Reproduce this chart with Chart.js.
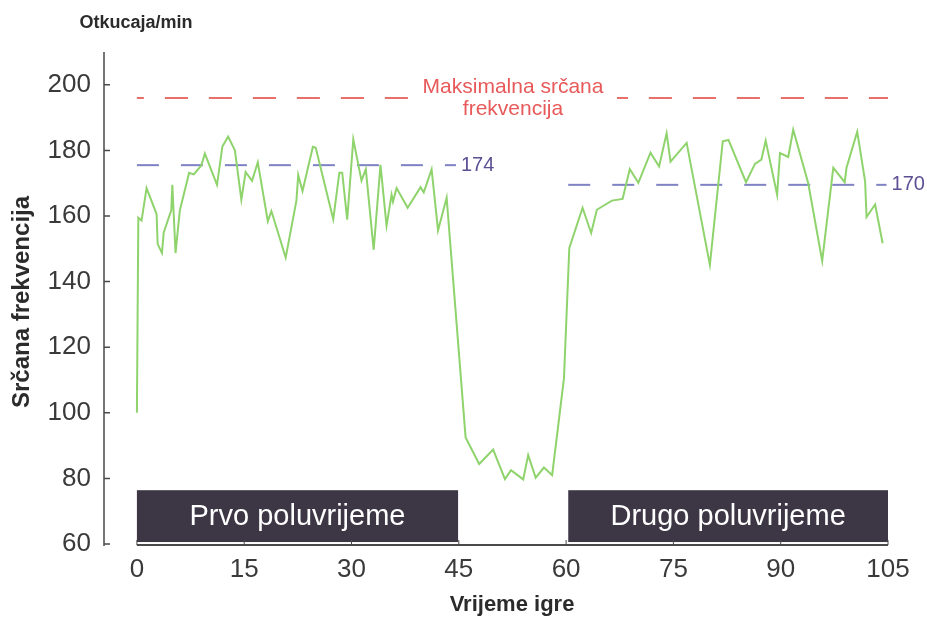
<!DOCTYPE html>
<html>
<head>
<meta charset="utf-8">
<script src="https://cdn.jsdelivr.net/npm/chart.js@4.4.1/dist/chart.umd.min.js"></script>
<style>
  html, body { margin: 0; padding: 0; background: #fff; }
  #wrap { width: 927px; height: 619px; }
</style>
</head>
<body>
<div id="wrap"><canvas id="hrChart" width="927" height="619"></canvas></div>
<script>
// --- data ---
const minutes = [0, 0.2, 0.65, 1.35, 2.75, 2.9, 3.5, 3.75, 4.8, 4.95, 5.4, 6.0, 7.3, 7.95, 9.0, 9.5,
  11.2, 11.95, 12.75, 13.7, 14.6, 15.2, 16.1, 16.9, 18.3, 18.8, 20.8, 22.3, 22.55, 23.15, 24.6, 25.0,
  27.45, 28.3, 28.7, 29.4, 30.25, 31.4, 32.0, 33.1, 34.05, 34.9, 35.6, 35.8, 36.3, 37.85, 39.65, 40.1,
  41.2, 42.1, 43.3, 45.95, 47.85, 49.8, 51.45, 52.3, 54.0, 54.7, 55.75, 56.9, 58.05, 59.7,
  60.45, 62.3, 63.5, 64.3, 66.4, 67.9, 68.9, 70.1, 71.8, 73.0, 74.05, 74.6, 76.85, 80.1, 81.9, 82.7,
  85.15, 86.4, 87.3, 87.9, 89.5, 89.9, 91.05, 91.75, 93.85, 95.8, 97.35, 98.95, 99.2, 100.7, 101.8,
  102.0, 103.2, 104.25];
const heartRate = [100, 159.5, 158.6, 168.5, 160.6, 151.5, 148.7, 155, 161.7, 169.5, 148.7, 161.7, 173.2, 172.7, 175.4, 179,
  169.5, 181.2, 184.2, 180, 165, 173.4, 170.7, 176.4, 158.4, 161.5, 147.3, 164.7, 172.5, 167.6, 181.1, 180.8,
  159, 173.2, 173.2, 158.9, 183.4, 170.8, 174.3, 149.7, 175.6, 157, 166.5, 164.4, 168.5, 162.5, 168.8, 167.2,
  174.2, 155.6, 165.6, 92.5, 84.4, 88.8, 79.8, 82.5, 79.7, 87.1, 80.2, 83.3, 81, 110.5,
  150.3, 162.5, 154.8, 161.9, 164.7, 165.2, 174.3, 170.1, 179.3, 175.1, 185.2, 176.6, 182.3, 145.1, 182.8, 183.2,
  170.3, 175.9, 177.2, 183, 166.5, 179.2, 178, 186.3, 170, 146.3, 174.7, 170.3, 174.7, 185.7, 170.6,
  159.7, 163.5, 151.7];

const xTicks = [0, 15, 30, 45, 60, 75, 90, 105];
const yTicks = [60, 80, 100, 120, 140, 160, 180, 200];

// halves of the match (dark boxes at the bottom)
const halfLabels = ['Prvo poluvrijeme', 'Drugo poluvrijeme'];
const halfStart = [0, 60.3];
const halfEnd = [44.9, 105];
const halfLow = 60.6;
const halfHigh = 76.4;

// maximal heart rate line
const maxHr = 196;
const maxHrLabel = ['Maksimalna srčana', 'frekvencija'];

// average lines per half
const avgLevel = [175.5, 169.5];
const avgLabel = ['174', '170'];
const avgFrom = [0, 60.3];
const avgTo = [44.6, 104.8];

const SANS = "'Liberation Sans', Arial, sans-serif";

// --- extra drawing: axes, boxes, reference lines, titles ---
const decorPlugin = {
  id: 'decor',
  beforeDatasetsDraw(chart) {
    const { ctx, scales: { x, y } } = chart;
    ctx.save();

    // half-time boxes
    halfLabels.forEach((txt, i) => {
      const x0 = x.getPixelForValue(halfStart[i]);
      const x1 = x.getPixelForValue(halfEnd[i]);
      const y0 = y.getPixelForValue(halfHigh);
      const y1 = y.getPixelForValue(halfLow);
      ctx.fillStyle = '#3c3645';
      ctx.fillRect(x0, y0, x1 - x0, y1 - y0);
      ctx.fillStyle = '#ffffff';
      ctx.font = '29px ' + SANS;
      ctx.textAlign = 'center';
      ctx.textBaseline = 'middle';
      ctx.fillText(txt, (x0 + x1) / 2, (y0 + y1) / 2 + 1);
    });

    // max heart rate dashed line
    const yMax = y.getPixelForValue(maxHr);
    ctx.strokeStyle = '#e8706a';
    ctx.lineWidth = 2;
    ctx.setLineDash([23, 21]);
    ctx.lineDashOffset = 16;
    ctx.beginPath();
    ctx.moveTo(x.getPixelForValue(0), yMax);
    ctx.lineTo(x.getPixelForValue(105), yMax);
    ctx.stroke();
    ctx.setLineDash([]);
    ctx.fillStyle = '#ffffff';
    ctx.fillRect(410, yMax - 22, 207, 44);
    ctx.fillStyle = '#e8595a';
    ctx.font = '21px ' + SANS;
    ctx.textAlign = 'center';
    ctx.textBaseline = 'middle';
    ctx.fillText(maxHrLabel[0], 513, yMax - 11);
    ctx.fillText(maxHrLabel[1], 513, yMax + 11);

    // average dashed lines with their labels
    avgLevel.forEach((lvl, i) => {
      const yy = y.getPixelForValue(lvl);
      const x0 = x.getPixelForValue(avgFrom[i]);
      const x1 = x.getPixelForValue(avgTo[i]);
      ctx.strokeStyle = '#7f82c4';
      ctx.lineWidth = 2;
      ctx.setLineDash([22, 22]);
      ctx.lineDashOffset = 0;
      ctx.beginPath();
      ctx.moveTo(x0, yy);
      ctx.lineTo(x1, yy);
      ctx.stroke();
      ctx.setLineDash([]);
      ctx.fillStyle = '#5d4f94';
      ctx.font = '20px ' + SANS;
      ctx.textAlign = 'left';
      ctx.textBaseline = 'middle';
      ctx.fillText(avgLabel[i], x1 + 5, yy);
    });
    ctx.restore();
  },
  afterDraw(chart) {
    const { ctx, chartArea, scales: { x, y } } = chart;
    ctx.save();
    ctx.strokeStyle = '#4a4a4a';

    // y axis line + inward ticks
    ctx.lineWidth = 1.5;
    ctx.beginPath();
    ctx.moveTo(chartArea.left, chartArea.top);
    ctx.lineTo(chartArea.left, chartArea.bottom + 2);
    yTicks.forEach(v => {
      const yy = y.getPixelForValue(v);
      ctx.moveTo(chartArea.left, yy);
      ctx.lineTo(chartArea.left + 6, yy);
    });
    ctx.stroke();

    // x axis line (starts at minute 0) + inward ticks
    const yb = y.getPixelForValue(60) + 1;
    ctx.lineWidth = 2;
    ctx.beginPath();
    ctx.moveTo(x.getPixelForValue(0), yb);
    ctx.lineTo(x.getPixelForValue(105), yb);
    ctx.stroke();
    ctx.lineWidth = 1;
    ctx.beginPath();
    xTicks.forEach(v => {
      const xx = x.getPixelForValue(v);
      ctx.moveTo(xx, yb);
      ctx.lineTo(xx, yb - 5);
    });
    ctx.stroke();

    // titles
    ctx.fillStyle = '#2b2b2b';
    ctx.textAlign = 'center';
    ctx.textBaseline = 'middle';
    ctx.font = 'bold 18px ' + SANS;
    ctx.fillText('Otkucaja/min', 136, 23);
    ctx.font = 'bold 22px ' + SANS;
    ctx.fillText('Vrijeme igre', 512, 605);
    ctx.font = 'bold 24px ' + SANS;
    ctx.translate(22, 302);
    ctx.rotate(-Math.PI / 2);
    ctx.fillText('Srčana frekvencija', 0, 0);
    ctx.restore();
  }
};

const ctx = document.getElementById('hrChart').getContext('2d');
new Chart(ctx, {
  type: 'line',
  data: {
    datasets: [{
      label: 'Srčana frekvencija',
      data: minutes.map((m, i) => ({ x: m, y: heartRate[i] })),
      borderColor: '#8fd36c',
      borderWidth: 2,
      pointRadius: 0,
      fill: false,
      tension: 0
    }]
  },
  options: {
    responsive: false,
    devicePixelRatio: 1,
    animation: false,
    layout: { padding: { left: 30, top: 52, right: 39, bottom: 0 } },
    plugins: {
      legend: { display: false },
      tooltip: { enabled: false }
    },
    scales: {
      x: {
        type: 'linear',
        min: -4.6,
        max: 105,
        afterBuildTicks: s => { s.ticks = xTicks.map(v => ({ value: v })); },
        afterFit: s => { s.height = 75; },
        grid: { display: false, drawTicks: false },
        border: { display: false },
        ticks: {
          color: '#3a3a3a',
          padding: 10,
          maxRotation: 0,
          autoSkip: false,
          font: { family: SANS, size: 26 }
        }
      },
      y: {
        min: 60,
        max: 210,
        afterBuildTicks: s => { s.ticks = yTicks.map(v => ({ value: v })); },
        afterFit: s => { s.width = 74; },
        grid: { display: false, drawTicks: false },
        border: { display: false },
        ticks: {
          color: '#3a3a3a',
          padding: 13,
          font: { family: SANS, size: 26 }
        }
      }
    }
  },
  plugins: [decorPlugin]
});
</script>
</body>
</html>
